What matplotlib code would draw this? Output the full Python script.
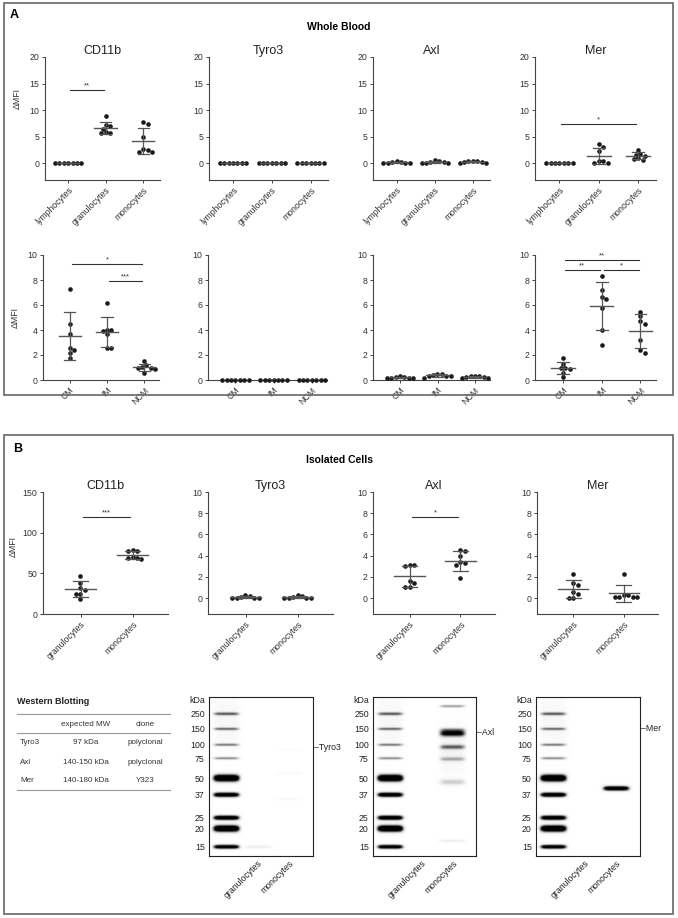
import numpy as np
import matplotlib
matplotlib.use('Agg')
import matplotlib.pyplot as plt
from matplotlib.patches import Rectangle

plt.rcParams['font.family'] = ['Liberation Sans', 'DejaVu Sans']

W, H = 678, 918

# ---- data ----
wb_groups = ['lymphocytes', 'granulocytes', 'monocytes']
mono_groups = ['CM', 'IM', 'NCM']
iso_groups = ['granulocytes', 'monocytes']
markers = ['CD11b', 'Tyro3', 'Axl', 'Mer']

# Whole blood, leukocyte populations (dMFI)
wb_cd11b = [[0.1, 0.1, 0.1, 0.1, 0.1, 0.1, 0.1],
            [8.8, 7.0, 7.2, 6.5, 5.7, 5.6, 5.8],
            [7.3, 7.8, 5.0, 2.5, 2.0, 2.0, 2.6]]
wb_tyro3 = [[0.0, 0.0, 0.0, 0.0, 0.0, 0.0, 0.0],
            [0.0, 0.0, 0.0, 0.0, 0.0, 0.0, 0.0],
            [0.0, 0.0, 0.0, 0.0, 0.0, 0.0, 0.0]]
wb_axl = [[0.3, 0.2, 0.1, 0.1, 0.1, 0.1, 0.2],
          [0.5, 0.2, 0.1, 0.1, 0.1, 0.2, 0.4],
          [0.4, 0.3, 0.2, 0.1, 0.1, 0.2, 0.3]]
wb_mer = [[0.0, 0.0, 0.0, 0.0, 0.0, 0.0, 0.0],
          [3.6, 3.0, 2.3, 0.0, 0.0, 0.3, 0.4],
          [2.5, 1.7, 1.6, 1.3, 0.9, 0.8, 0.6]]

# Whole blood, monocyte subsets (dMFI)
mo_cd11b = [[7.3, 4.5, 3.7, 2.6, 2.4, 2.2, 1.8],
            [6.2, 4.0, 3.9, 4.0, 3.65, 2.6, 2.6],
            [1.5, 1.05, 1.2, 0.9, 1.0, 1.0, 0.55]]
mo_tyro3 = [[0.03, 0.02, 0.02, 0.02, 0.02, 0.02, 0.03],
            [0.04, 0.03, 0.02, 0.02, 0.02, 0.03, 0.04],
            [0.03, 0.02, 0.02, 0.02, 0.02, 0.02, 0.03]]
mo_axl = [[0.3, 0.25, 0.2, 0.15, 0.15, 0.2, 0.25],
          [0.5, 0.4, 0.35, 0.3, 0.2, 0.35, 0.45],
          [0.35, 0.3, 0.25, 0.15, 0.2, 0.25, 0.35]]
mo_mer = [[1.8, 1.3, 1.0, 0.95, 0.9, 0.6, 0.25],
          [8.35, 7.2, 6.65, 6.5, 5.8, 4.0, 2.8],
          [5.45, 5.1, 4.7, 4.5, 3.2, 2.4, 2.15]]

# Isolated cells (dMFI)
iso_cd11b = [[47, 38, 32, 29, 25, 24, 18],
             [77.5, 78.5, 78, 69.5, 68.5, 68, 69]]
iso_tyro3 = [[0.25, 0.1, 0.05, 0.05, 0.05, 0.05, 0.15],
             [0.25, 0.1, 0.05, 0.05, 0.05, 0.05, 0.15]]
iso_axl = [[3.1, 3.1, 3.0, 1.6, 1.4, 1.05, 1.05],
           [4.5, 4.4, 4.0, 3.4, 3.1, 3.3, 1.85]]
iso_mer = [[2.25, 1.4, 1.25, 0.6, 0.4, 0.05, 0.05],
           [2.25, 0.3, 0.25, 0.1, 0.1, 0.1, 0.1]]

# significance brackets: (group a, group b, height, stars)
wb_sig = [[(0, 1, 13.7, '**')], [], [], [(0, 2, 7.4, '*')]]
mo_sig = [[(0, 2, 9.3, '*'), (1, 2, 7.9, '***')], [], [],
          [(0, 2, 9.6, '**'), (0, 1, 8.8, '**'), (1, 2, 8.8, '*')]]
iso_sig = [[(0, 1, 119, '***')], [], [(0, 1, 7.6, '*')], []]

# western blot table
wb_targets = ['Tyro3', 'Axl', 'Mer']
wb_mw = ['97 kDa', '140-150 kDa', '140-180 kDa']
wb_clone = ['polyclonal', 'polyclonal', 'Y323']

# western blot ladder (kDa, migration as fraction of blot height, intensity, thickness)
ladder_kda = [250, 150, 100, 75, 50, 37, 25, 20, 15]
ladder_mig = [0.105, 0.20, 0.30, 0.385, 0.51, 0.615, 0.76, 0.828, 0.943]
ladder_amp = [0.7, 0.65, 0.6, 0.55, 1.8, 1.5, 1.5, 1.8, 1.4]
ladder_sig = [0.007, 0.006, 0.006, 0.006, 0.015, 0.010, 0.010, 0.014, 0.009]
blot_lanes = ['granulocytes', 'monocytes']
# sample bands: (lane, migration, intensity, thickness)
tyro3_bands = [(1, 0.943, 0.14, 0.007), (2, 0.48, 0.06, 0.006), (2, 0.64, 0.05, 0.006),
               (2, 0.33, 0.03, 0.006)]
axl_bands = [(2, 0.057, 0.5, 0.006), (2, 0.205, 0.35, 0.008), (2, 0.228, 1.1, 0.014),
             (2, 0.314, 0.65, 0.010), (2, 0.39, 0.4, 0.009), (2, 0.535, 0.3, 0.013),
             (2, 0.905, 0.15, 0.006), (2, 0.33, 0.1, 0.09)]
mer_bands = [(2, 0.575, 1.5, 0.010)]
blot_targets = [('Tyro3', 0.32), ('Axl', 0.226), ('Mer', 0.20)]

DOT = '#1a1a1a'
LINE = '#555555'
SPINE = '#444444'


def rect(x0, y0, x1, y1):
    return [x0 / W, 1 - y1 / H, (x1 - x0) / W, (y1 - y0) / H]


def swarm_x(ax, xc, vals, d=4.4):
    pts = ax.transData.transform(np.column_stack([np.full(len(vals), xc), vals]))
    placed = []
    out = np.zeros(len(vals))
    step = d / 2
    for idx in np.argsort(-np.asarray(vals)):
        px, py = pts[idx]
        k = 0
        while True:
            off = ((k + 1) // 2) * step * (1 if k % 2 else -1) if k else 0.0
            ok = all((px + off - qx) ** 2 + (py - qy) ** 2 >= (d * 0.98) ** 2 for qx, qy in placed)
            if ok:
                break
            k += 1
        placed.append((px + off, py))
        out[idx] = px + off
    back = ax.transData.inverted().transform(np.column_stack([out, pts[:, 1]]))
    return back[:, 0]


def dot_panel(ax, groups, cats, xlim, ylim, yticks, sig, title=None, ylabel=False, lab_y=0.5):
    ax.set_xlim(*xlim)
    ax.set_ylim(*ylim)
    for i, vals in enumerate(groups):
        vals = np.asarray(vals, dtype=float)
        xs = swarm_x(ax, i, vals)
        ax.scatter(xs, vals, s=11, c=DOT, linewidths=0, zorder=3, clip_on=False)
        m, sd = vals.mean(), vals.std(ddof=1)
        ax.plot([i - 0.3, i + 0.3], [m, m], color=LINE, lw=1.0, zorder=4)
        ax.plot([i, i], [m - sd, m + sd], color=LINE, lw=0.9, zorder=4)
        for yy in (m - sd, m + sd):
            ax.plot([i - 0.15, i + 0.15], [yy, yy], color=LINE, lw=0.9, zorder=4)
    for a, b, y, s in sig:
        ax.plot([a + 0.05, b - 0.05], [y, y], color='#333333', lw=0.8, clip_on=False)
        ax.annotate(s, ((a + b) / 2, y), xytext=(0, 0.5), textcoords='offset points',
                    ha='center', va='bottom', fontsize=5.5, color='#333333')
    ax.set_yticks(yticks)
    ax.set_xticks(range(len(cats)))
    ax.set_xticklabels(cats, rotation=45, ha='right', rotation_mode='anchor')
    for sp in ['top', 'right']:
        ax.spines[sp].set_visible(False)
    for sp in ['left', 'bottom']:
        ax.spines[sp].set_color(SPINE)
        ax.spines[sp].set_linewidth(0.8)
    ax.tick_params(length=2.5, width=0.7, pad=1.5, labelsize=6.3, colors=SPINE, labelcolor='#333333')
    if title:
        ax.set_title(title, fontsize=9, pad=1, color='#222222')
    if ylabel:
        ax.set_ylabel('ΔMFI', fontsize=6.3, color='#333333')
        ax.yaxis.set_label_coords(-0.2, lab_y)


def blot_panel(ax, bands, target):
    yy = np.linspace(0, 1, 500)[:, None]
    xx = np.linspace(-0.55, 2.75, 330)[None, :]
    img = np.zeros((500, 330))
    lane_mask = lambda c: np.exp(-((xx - c) / 0.41) ** 6)
    # faint smear along the ladder lane
    img += 0.07 * np.exp(-0.5 * ((yy - 0.15) / 0.12) ** 2) * lane_mask(0)
    for mg, a, s in zip(ladder_mig, ladder_amp, ladder_sig):
        img += a * np.exp(-0.5 * ((yy - mg) / s) ** 2) * lane_mask(0)
    for lane, mg, a, s in bands:
        img += a * np.exp(-0.5 * ((yy - mg) / s) ** 2) * lane_mask(lane)
    ax.imshow(img, cmap='Greys', vmin=0, vmax=1, extent=[-0.55, 2.75, 1, 0],
              aspect='auto', interpolation='bilinear')
    ax.set_xlim(-0.55, 2.75)
    ax.set_ylim(1, 0)
    ax.set_yticks(ladder_mig)
    ax.set_yticklabels([str(k) for k in ladder_kda])
    ax.set_xticks([1, 2])
    ax.set_xticklabels(blot_lanes, rotation=45, ha='right', rotation_mode='anchor')
    ax.tick_params(length=0, pad=3, labelsize=6.3, labelcolor='#222222')
    ax.tick_params(axis='x', pad=2)
    for sp in ax.spines.values():
        sp.set_linewidth(0.8)
        sp.set_color('#222222')
    ax.text(-0.04, 0.025, 'kDa', transform=ax.get_yaxis_transform(), ha='right', va='center',
            fontsize=6.3, color='#222222')
    ax.text(1.01, target[1], '–' + target[0], transform=ax.get_yaxis_transform(), ha='left',
            va='center', fontsize=6.3, color='#222222')


fig = plt.figure(figsize=(W / 100, H / 100), dpi=100)

# panel frames
fig.patches.append(Rectangle((4 / W, 1 - 395 / H), 669 / W, 392 / H, transform=fig.transFigure,
                             fill=False, ec='#666666', lw=1.2))
fig.patches.append(Rectangle((4 / W, 1 - 914 / H), 669 / W, 479 / H, transform=fig.transFigure,
                             fill=False, ec='#666666', lw=1.2))
fig.text(10 / W, 1 - 15 / H, 'A', fontsize=9, weight='bold', va='center')
fig.text(13 / W, 1 - 449 / H, 'B', fontsize=9, weight='bold', va='center')
fig.text(339 / W, 1 - 27 / H, 'Whole Blood', fontsize=7.5, weight='bold', ha='center', va='center')
fig.text(339 / W, 1 - 460 / H, 'Isolated Cells', fontsize=7.5, weight='bold', ha='center', va='center')

wb_data = [wb_cd11b, wb_tyro3, wb_axl, wb_mer]
mo_data = [mo_cd11b, mo_tyro3, mo_axl, mo_mer]
iso_data = [iso_cd11b, iso_tyro3, iso_axl, iso_mer]

row1_x = [(45, 160), (209, 328), (373, 490), (535, 656)]
row2_x = [(43, 159), (208, 327), (373, 490), (535, 656)]
rowb_x = [(43, 168), (208, 333), (373, 495), (537, 658)]

for j in range(4):
    ax = fig.add_axes(rect(row1_x[j][0], 57, row1_x[j][1], 180))
    dot_panel(ax, wb_data[j], wb_groups, (-0.62, 2.45), (-3.2, 20), [0, 5, 10, 15, 20],
              wb_sig[j], title=markers[j], ylabel=(j == 0), lab_y=0.66)

    ax = fig.add_axes(rect(row2_x[j][0], 255, row2_x[j][1], 380))
    dot_panel(ax, mo_data[j], mono_groups, (-0.72, 2.4), (0, 10), [0, 2, 4, 6, 8, 10],
              mo_sig[j], ylabel=(j == 0))

    if j == 0:
        ylim, yt = (0, 150), [0, 50, 100, 150]
    else:
        ylim, yt = (-1.5, 10), [0, 2, 4, 6, 8, 10]
    ax = fig.add_axes(rect(rowb_x[j][0], 492, rowb_x[j][1], 614))
    dot_panel(ax, iso_data[j], iso_groups, (-0.72, 1.68), ylim, yt,
              iso_sig[j], title=markers[j], ylabel=(j == 0), lab_y=0.55)

# western blot table
tax = fig.add_axes(rect(12, 690, 180, 800))
tax.set_xlim(12, 180)
tax.set_ylim(800, 690)
tax.axis('off')
tax.text(17, 702, 'Western Blotting', fontsize=6.5, weight='bold', va='center', color='#222222')
for yl in (714, 733, 790):
    tax.plot([17, 170], [yl, yl], color='#999999', lw=0.8)
tax.text(86, 724, 'expected MW', fontsize=5.8, ha='center', va='center', color='#333333')
tax.text(145, 724, 'clone', fontsize=5.8, ha='center', va='center', color='#333333')
for i, (t, mw, cl) in enumerate(zip(wb_targets, wb_mw, wb_clone)):
    yr = 743 + i * 19
    tax.text(20, yr, t, fontsize=5.8, va='center', color='#333333')
    tax.text(86, yr, mw, fontsize=5.8, ha='center', va='center', color='#333333')
    tax.text(145, yr, cl, fontsize=5.8, ha='center', va='center', color='#333333')

blot_x = [(209, 313), (373, 476), (536, 640)]
blot_bands = [tyro3_bands, axl_bands, mer_bands]
for j in range(3):
    ax = fig.add_axes(rect(blot_x[j][0], 697, blot_x[j][1], 856))
    blot_panel(ax, blot_bands[j], blot_targets[j])

fig.savefig('out.png', dpi=100)
